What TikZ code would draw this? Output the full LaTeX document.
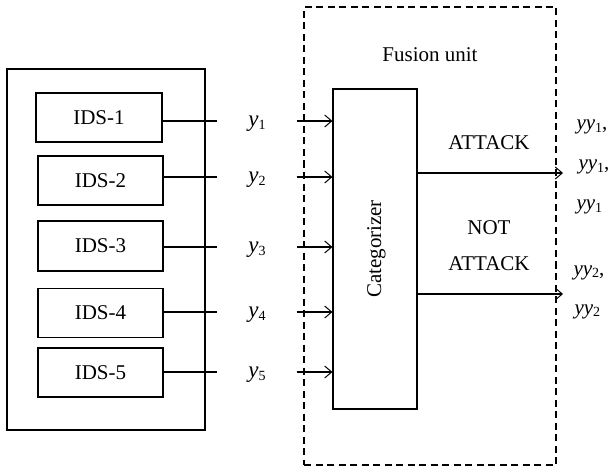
\documentclass[tikz,border=0pt]{standalone}
\usepackage{fontspec}
\setmainfont{Liberation Serif}
\usetikzlibrary{arrows.meta}
\newcommand{\sbx}[1]{\raisebox{-0.28ex}{\fontsize{14}{14}\selectfont #1}}
\newcommand{\yv}[1]{{\fontsize{23}{25}\selectfont\textit{y}}\sbx{#1}}
\newcommand{\yyv}[1]{\textit{yy}\sbx{#1}}
\begin{document}
\begin{tikzpicture}[x=1pt,y=-1pt,line width=1.1pt,
  every node/.style={font=\fontsize{21}{25}\selectfont},
  >={Straight Barb[length=7pt,width=12pt,line width=1pt]},
  idsbox/.style={draw,minimum width=125pt,minimum height=49pt,inner sep=0pt},
  lbl/.style={minimum width=78pt,minimum height=0pt,inner sep=0pt},
  lbltxt/.style={inner sep=0pt,yshift=-3pt},
  outtxt/.style={anchor=base west,inner sep=0pt}]
\useasboundingbox (0,0) rectangle (611,468);
% containers
\node[draw,minimum width=198pt,minimum height=361pt,inner sep=0pt] (src) at (106,249.5) {};
\node[draw,dashed,dash pattern=on 7pt off 4.5pt,minimum width=252pt,minimum height=458pt,inner sep=0pt] (fu) at (430,236) {};
\node (fulbl) at (430,55) {Fusion unit};
\node[draw,minimum width=84pt,minimum height=320pt,inner sep=0pt] (cat) at (375,249) {};
\node[rotate=90,inner sep=0pt] (catlbl) at (376.5,249) {Categorizer};
% IDS boxes
\node[idsbox,minimum width=126pt] (ids1) at (99,117.5) {IDS-1};
\node[idsbox] (ids2) at (100.5,180.5) {IDS-2};
\node[idsbox,minimum height=50pt] (ids3) at (100.5,246) {IDS-3};
\node[idsbox] (ids4) at (100.5,313) {IDS-4};
\node[idsbox] (ids5) at (100.5,372.5) {IDS-5};
% labels on the connectors
\node[lbl,label={[lbltxt]center:\yv{1}}] (l1) at (257,121) {};
\node[lbl,label={[lbltxt]center:\yv{2}}] (l2) at (257,177) {};
\node[lbl,label={[lbltxt]center:\yv{3}}] (l3) at (257,247) {};
\node[lbl,label={[lbltxt]center:\yv{4}}] (l4) at (257,312) {};
\node[lbl,label={[lbltxt]center:\yv{5}}] (l5) at (257,372) {};
\foreach \i in {1,...,5}{
  \draw (ids\i.east |- l\i) -- (l\i.west);
  \draw[->] (l\i.east) -- (l\i.east -| cat.west);
}
% outputs
\coordinate (o1) at (563,173);
\coordinate (o2) at (563,294);
\draw[->] (cat.east |- o1) -- (o1);
\draw[->] (cat.east |- o2) -- (o2);
\node (att) at (489,143) {ATTACK};
\node (not1) at (489,228) {NOT};
\node (not2) at (489,264) {ATTACK};
\node[outtxt] (r1) at (576,130) {\yyv{1},};
\node[outtxt] (r2) at (578,170) {\yyv{1},};
\node[outtxt] (r3) at (576,210) {\yyv{1}};
\node[outtxt] (r4) at (573,275) {\yyv{2},};
\node[outtxt] (r5) at (574,314) {\yyv{2}};
\end{tikzpicture}
\end{document}
